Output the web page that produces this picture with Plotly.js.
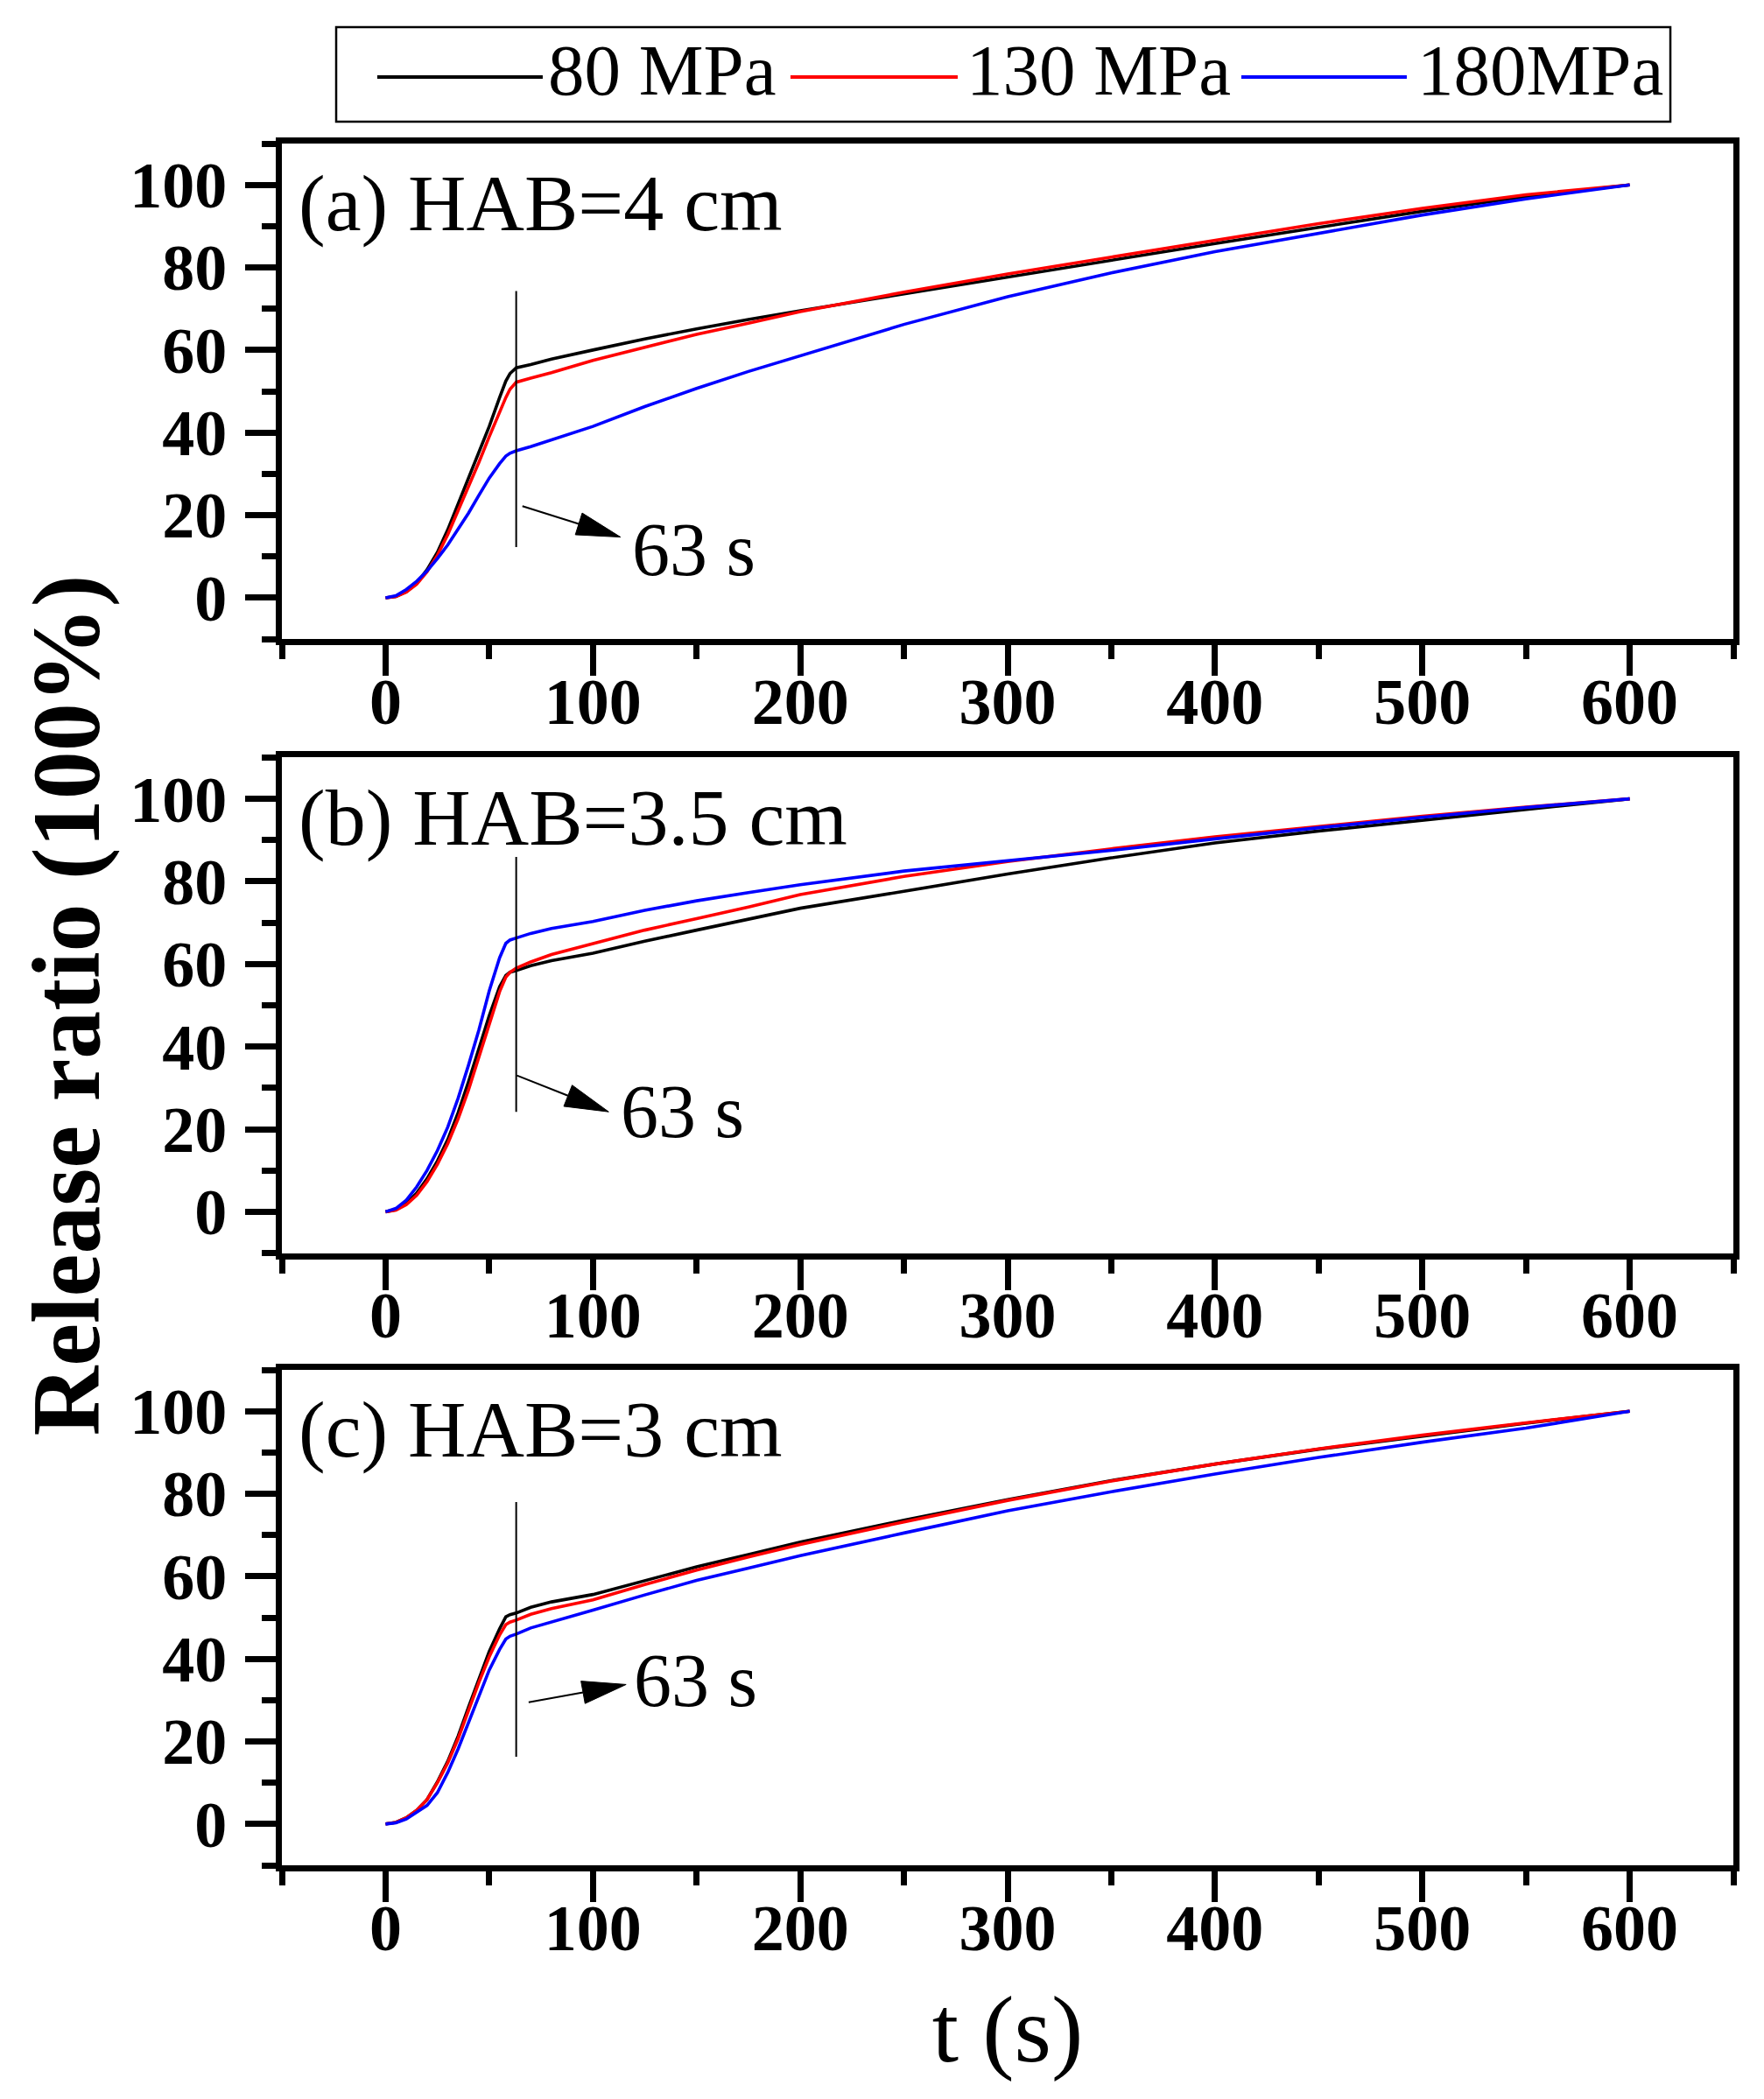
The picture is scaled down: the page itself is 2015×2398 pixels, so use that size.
<!DOCTYPE html>
<html>
<head>
<meta charset="utf-8">
<script src="https://cdn.plot.ly/plotly-3.0.1.min.js"></script>
<style>
  html, body { margin: 0; padding: 0; background: #fff; }
  #graf { width: 2015px; height: 2398px; }
</style>
</head>
<body>
<div id="graf"></div>
<script>
// time axis shared by all curves (s)
let time = [0, 5, 10, 15, 20, 25, 30, 35, 40, 45, 50, 55, 58, 60, 63, 70, 80, 100, 125, 150, 175, 200, 250, 300, 350, 400, 450, 500, 550, 600];

// (a) HAB = 4 cm
let a80  = [0, 0.3, 1.5, 3.5, 6.8, 11, 16.5, 22.8, 29.3, 35.3, 41.5, 48.5, 52.5, 54.3, 55.7, 56.5, 57.8, 60, 62.7, 65.1, 67.4, 69.5, 73.6, 77.7, 81.8, 85.8, 89.7, 93.6, 97.2, 100];
let a130 = [0, 0.3, 1.4, 3.3, 6.3, 10.3, 15.3, 21, 26.8, 32.8, 39, 45, 48.5, 50.5, 52.2, 53.2, 54.5, 57.5, 60.7, 63.8, 66.5, 69.3, 74, 78.4, 82.5, 86.6, 90.6, 94.3, 97.6, 100];
let a180 = [0, 0.5, 2, 4, 6.5, 9.5, 12.8, 16.5, 20.5, 24.8, 29, 32.5, 34.3, 35, 35.6, 36.6, 38.2, 41.5, 46.3, 50.7, 54.8, 58.6, 66.2, 72.9, 78.7, 83.8, 88.3, 92.7, 96.6, 100];

// (b) HAB = 3.5 cm
let b80  = [0, 0.5, 2, 4.5, 8, 12.3, 17.5, 24, 31.5, 39.5, 47.5, 54.5, 57.2, 58, 58.4, 59.6, 60.8, 62.6, 65.5, 68.2, 70.8, 73.5, 77.6, 81.8, 85.7, 89.3, 92.2, 94.8, 97.4, 100];
let b130 = [0, 0.4, 1.7, 4, 7.3, 11.5, 16.5, 22.5, 29.5, 37.5, 45.8, 53.3, 56.8, 58, 59, 60.5, 62.3, 65, 68.2, 71, 73.8, 76.8, 81.2, 84.8, 87.9, 90.8, 93.3, 95.8, 98, 100];
let b180 = [0, 0.8, 2.8, 6, 10, 14.8, 20.5, 27.5, 35.5, 44, 53.5, 61.5, 65, 65.8, 66.3, 67.4, 68.6, 70.3, 73, 75.3, 77.3, 79.2, 82.5, 85, 87.5, 90.3, 93, 95.5, 97.9, 100];

// (c) HAB = 3 cm
let c80  = [0, 0.4, 1.5, 3.3, 5.9, 10.2, 15.2, 21.3, 28.3, 35.2, 41.8, 47.3, 50.2, 50.7, 51.1, 52.5, 53.8, 55.6, 59, 62.3, 65.3, 68.3, 73.6, 78.6, 83.2, 87.2, 90.8, 94, 97.1, 100];
let c130 = [0, 0.4, 1.5, 3.3, 5.9, 10, 14.8, 20.7, 27.5, 34.3, 40.5, 45.8, 48.3, 48.9, 49.4, 50.8, 52.2, 54.3, 58, 61.5, 64.7, 67.7, 73.2, 78.4, 83.1, 87.2, 90.9, 94.2, 97.2, 100];
let c180 = [0, 0.3, 1.2, 2.8, 4.5, 7.6, 12.5, 18.2, 24.5, 31, 37.3, 42.3, 44.8, 45.5, 46, 47.5, 49, 51.8, 55.5, 59, 62, 65, 70.5, 75.9, 80.5, 84.8, 88.8, 92.5, 95.9, 100];

let seriesNames = ['80 MPa', '130 MPa', '180MPa'];
let seriesColors = ['#000000', '#ff0000', '#0000ff'];
let panelLabels = ['(a) HAB=4 cm', '(b) HAB=3.5 cm', '(c) HAB=3 cm'];

let serif = 'Liberation Serif, Times New Roman, serif';
let panels = [[a80, a130, a180], [b80, b130, b180], [c80, c130, c180]];

let traces = [];
panels.forEach(function (set, p) {
    set.forEach(function (vals, k) {
        traces.push({
            x: time,
            y: vals,
            type: 'scatter',
            mode: 'lines',
            name: seriesNames[k],
            line: { color: seriesColors[k], width: 3.6 },
            xaxis: p == 0 ? 'x' : 'x' + (p + 1),
            yaxis: p == 0 ? 'y' : 'y' + (p + 1),
            showlegend: false
        });
    });
});

function xAxis(anchor) {
    return {
        anchor: anchor, domain: [0, 1], range: [-50, 650],
        tick0: 0, dtick: 100, ticks: 'outside', ticklen: 35, tickwidth: 7, tickcolor: '#000',
        minor: { dtick: 50, tick0: 0, ticks: 'outside', ticklen: 16, tickwidth: 7, tickcolor: '#000', showgrid: false },
        showline: true, linewidth: 7, linecolor: '#000', mirror: true,
        showgrid: false, zeroline: false, ticklabelstandoff: -34,
        tickfont: { family: serif, size: 74, color: '#000', weight: 'bold' }
    };
}
function yAxis(anchor, domain) {
    return {
        anchor: anchor, domain: domain, range: [-10, 110],
        tick0: 0, dtick: 20, ticks: 'outside', ticklen: 35, tickwidth: 7, tickcolor: '#000',
        minor: { dtick: 10, tick0: 0, ticks: 'outside', ticklen: 16, tickwidth: 7, tickcolor: '#000', showgrid: false },
        showline: true, linewidth: 7, linecolor: '#000', mirror: true,
        showgrid: false, zeroline: false, ticklabelstandoff: 6,
        tickfont: { family: serif, size: 74, color: '#000', weight: 'bold' }
    };
}

// pixel size of one data unit, used to keep the arrow heads undistorted
let pxX = 1658 / 700, pxY = 566 / 120;

let shapes = [];
let annotations = [];

// vertical marker at 63 s, arrow and its label, per panel
let marks = [
    { line: [12.3, 74.3], tail: [66, 22.2], head: [113.3, 14.7], text: [118, 11.7] },
    { line: [24.2, 85.9], tail: [63.3, 33], head: [107.6, 24.2], text: [112.4, 24.3] },
    { line: [16.3, 78],   tail: [69, 29.5], head: [116, 33.8],   text: [119, 34.8] }
];

marks.forEach(function (m, p) {
    let xr = p == 0 ? 'x' : 'x' + (p + 1);
    let yr = p == 0 ? 'y' : 'y' + (p + 1);
    shapes.push({ type: 'line', xref: xr, yref: yr, x0: 63, x1: 63, y0: m.line[0], y1: m.line[1],
                  line: { color: '#000', width: 2 } });

    let dx = (m.head[0] - m.tail[0]) * pxX, dy = (m.head[1] - m.tail[1]) * pxY;
    let len = Math.hypot(dx, dy), ux = dx / len, uy = dy / len;
    let headLen = 50, halfW = 13;
    let bx = m.head[0] - ux * headLen / pxX, by = m.head[1] - uy * headLen / pxY;
    shapes.push({ type: 'line', xref: xr, yref: yr, x0: m.tail[0], y0: m.tail[1], x1: bx, y1: by,
                  line: { color: '#000', width: 2 } });
    let p1 = [bx - uy * halfW / pxX, by + ux * halfW / pxY];
    let p2 = [bx + uy * halfW / pxX, by - ux * halfW / pxY];
    shapes.push({ type: 'path', xref: xr, yref: yr,
                  path: 'M' + m.head[0] + ',' + m.head[1] + ' L' + p1[0] + ',' + p1[1] + ' L' + p2[0] + ',' + p2[1] + ' Z',
                  fillcolor: '#000', line: { color: '#000', width: 1 } });

    annotations.push({ xref: xr, yref: yr, x: m.text[0], y: m.text[1], text: '63 s', showarrow: false,
                       xanchor: 'left', yanchor: 'middle', font: { family: serif, size: 86, color: '#000' } });
    annotations.push({ xref: xr, yref: yr, x: -43, y: 95.5, text: panelLabels[p], showarrow: false,
                       xanchor: 'left', yanchor: 'middle', font: { family: serif, size: 92, color: '#000' } });
});

// legend drawn by hand so the sample lines can be long, as in the figure
shapes.push({ type: 'rect', xref: 'paper', yref: 'paper', x0: 0.0374, x1: 0.9566, y0: 1.0127, y1: 1.0676,
              line: { color: '#000', width: 2.5 }, fillcolor: 'rgba(0,0,0,0)' });
let legendX = [[0.0657, 0.1797, 0.1821], [0.3504, 0.4656, 0.4704], [0.6610, 0.7750, 0.7811]];
legendX.forEach(function (lx, k) {
    shapes.push({ type: 'line', xref: 'paper', yref: 'paper', x0: lx[0], x1: lx[1], y0: 1.0386, y1: 1.0386,
                  line: { color: seriesColors[k], width: 4 } });
    annotations.push({ xref: 'paper', yref: 'paper', x: lx[2], y: 1.0426, text: seriesNames[k], showarrow: false,
                       xanchor: 'left', yanchor: 'middle', font: { family: serif, size: 83, color: '#000' } });
});

let layout = {
    width: 2015, height: 2398,
    margin: { l: 322, r: 35, t: 164, b: 267 },
    paper_bgcolor: '#fff', plot_bgcolor: '#fff',
    showlegend: false,
    xaxis: xAxis('y'),
    xaxis2: xAxis('y2'),
    xaxis3: xAxis('y3'),
    yaxis: yAxis('x', [0.7122, 1]),
    yaxis2: yAxis('x2', [0.3556, 0.6434]),
    yaxis3: yAxis('x3', [0, 0.2877]),
    shapes: shapes,
    annotations: annotations
};
layout.xaxis3.title = { text: 't (s)', font: { family: serif, size: 109, color: '#000' }, standoff: 38 };
layout.yaxis2.title = { text: 'Release ratio (100%)', font: { family: serif, size: 110, color: '#000', weight: 'bold' }, standoff: 0 };

graf = document.getElementById('graf');
Plotly.newPlot(graf, traces, layout, { staticPlot: true });
</script>
</body>
</html>
